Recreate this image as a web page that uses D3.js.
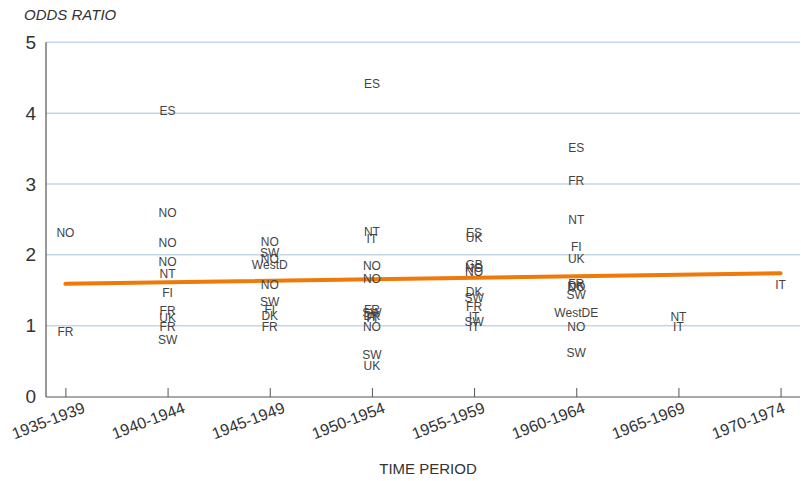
<!DOCTYPE html>
<html><head><meta charset="utf-8">
<script src="https://cdn.jsdelivr.net/npm/d3@7"></script>
<style>
body{margin:0;background:#fff;}
svg{display:block;font-family:"Liberation Sans",Arial,Helvetica,sans-serif;}
</style></head>
<body><svg id="c" width="801" height="481"></svg>
<script>
const periods = ["1935-1939","1940-1944","1945-1949","1950-1954","1955-1959","1960-1964","1965-1969","1970-1974"];
const yTicks = [0,1,2,3,4,5];
const pointPeriod = [
 "1935-1939","1935-1939",
 "1940-1944","1940-1944","1940-1944","1940-1944","1940-1944","1940-1944","1940-1944","1940-1944","1940-1944","1940-1944",
 "1945-1949","1945-1949","1945-1949","1945-1949","1945-1949","1945-1949","1945-1949","1945-1949","1945-1949",
 "1950-1954","1950-1954","1950-1954","1950-1954","1950-1954","1950-1954","1950-1954","1950-1954","1950-1954","1950-1954","1950-1954","1950-1954","1950-1954",
 "1955-1959","1955-1959","1955-1959","1955-1959","1955-1959","1955-1959","1955-1959","1955-1959","1955-1959","1955-1959","1955-1959",
 "1960-1964","1960-1964","1960-1964","1960-1964","1960-1964","1960-1964","1960-1964","1960-1964","1960-1964","1960-1964","1960-1964","1960-1964",
 "1965-1969","1965-1969",
 "1970-1974"];
const pointCountry = [
 "NO","FR",
 "ES","NO","NO","NO","NT","FI","FR","UK","FR","SW",
 "NO","SW","NO","WestD","NO","SW","FI","DK","FR",
 "ES","NT","IT","NO","NO","FR","SW","DK","IT","FI","NO","SW","UK",
 "ES","UK","GB","NO","NO","DK","SW","FR","IT","SW","IT",
 "ES","FR","NT","FI","UK","FR","DK","NO","SW","WestDE","NO","SW",
 "NT","IT",
 "IT"];
const pointValue = [
 2.31,0.92,
 4.04,2.59,2.17,1.90,1.73,1.46,1.21,1.11,0.98,0.80,
 2.18,2.03,1.95,1.86,1.57,1.33,1.22,1.14,0.98,
 4.42,2.32,2.22,1.84,1.66,1.22,1.18,1.14,1.12,1.11,0.98,0.59,0.44,
 2.31,2.24,1.86,1.81,1.76,1.48,1.39,1.26,1.12,1.05,0.98,
 3.51,3.04,2.50,2.12,1.95,1.59,1.56,1.55,1.43,1.18,0.99,0.61,
 1.12,0.98,
 1.57];
const trendPeriods = ["1935-1939","1970-1974"];
const trendValues = [1.59,1.74];

const svg = d3.select("#c");
const x = d3.scalePoint().domain(periods).range([46,800]).padding(0.19);
const xLabel = d3.scalePoint().domain(periods).range([86,786]);
const y = d3.scaleLinear().domain([0,5]).range([396.5,42.3]);

// gridlines
svg.append("g").selectAll("line").data(yTicks.filter(d=>d>0)).join("line")
  .attr("x1",46).attr("x2",800).attr("y1",d=>y(d)).attr("y2",d=>y(d))
  .attr("stroke","#c5d5e8").attr("stroke-width",1.5);

// y axis
const ya = svg.append("g").attr("transform","translate(46,0)")
  .call(d3.axisLeft(y).tickValues(yTicks).tickFormat(d3.format("d")).tickSize(0).tickPadding(10));
ya.select(".domain").attr("stroke","#333").attr("d","M0,"+y(5)+"V"+(y(0)+0.5));
ya.selectAll("text").attr("font-size",19).attr("fill","#333").attr("font-family","Liberation Sans, Arial, sans-serif");

// x axis
const xa = svg.append("g").attr("transform","translate(0,"+(y(0)+0.5)+")")
  .call(d3.axisBottom(x).tickSize(-9).tickSizeOuter(0));
xa.select(".domain").attr("stroke","#555").attr("d","M46,0H800");
xa.selectAll(".tick line").attr("stroke","#555");
xa.selectAll(".tick text").remove();
svg.append("g").selectAll("text").data(periods).join("text")
  .attr("transform",d=>"translate("+xLabel(d)+",412) rotate(-21)")
  .attr("text-anchor","end").attr("font-size",16).attr("fill","#333")
  .text(d=>d);

// titles
svg.append("text").attr("x",24).attr("y",20).attr("font-size",15).attr("font-style","italic")
  .attr("fill","#333").text("ODDS RATIO");
svg.append("text").attr("x",428).attr("y",474).attr("text-anchor","middle").attr("font-size",15)
  .attr("fill","#333").text("TIME PERIOD");

// trend line
svg.append("path").datum(trendPeriods.map((p,i)=>[x(p),y(trendValues[i])]))
  .attr("d",d3.line()).attr("stroke","#ee7a0a").attr("stroke-width",4)
  .attr("stroke-linecap","round").attr("fill","none");

// point labels
svg.append("g").selectAll("text").data(pointValue.map((v,i)=>({p:pointPeriod[i],c:pointCountry[i],v})))
  .join("text")
  .attr("x",d=>x(d.p)).attr("y",d=>y(d.v)).attr("dy","0.35em")
  .attr("text-anchor","middle").attr("font-size",12).attr("fill","#444")
  .text(d=>d.c);
</script></body></html>
